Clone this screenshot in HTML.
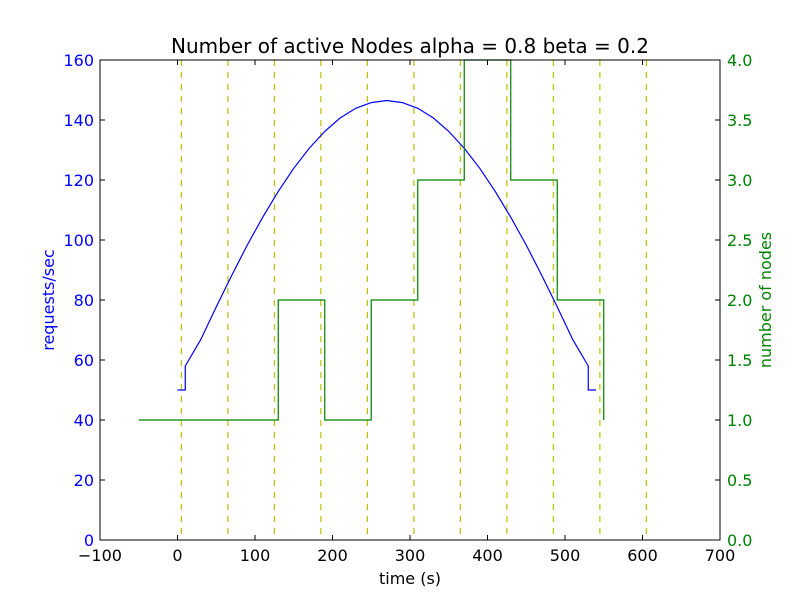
<!DOCTYPE html>
<html><head><meta charset="utf-8"><style>
body{margin:0;background:#fff;}
svg text{font-family:"DejaVu Sans","Liberation Sans",sans-serif;}
</style></head><body>
<svg id="c" width="800" height="600" xmlns="http://www.w3.org/2000/svg"></svg>
<script>
const xTicks=[-100,0,100,200,300,400,500,600,700];
const yLeftTicks=[0,20,40,60,80,100,120,140,160];
const yRightTicks=["0.0","0.5","1.0","1.5","2.0","2.5","3.0","3.5","4.0"];
const vlines=[5,65,125,185,245,305,365,425,485,545,605];
const reqX=[0,10,10,30,50,70,90,110,130,150,170,190,210,230,250,270,290,310,330,350,370,390,410,430,450,470,490,510,530,530,540];
const reqY=[50,50,58,66.8,77.7,88.2,98.3,107.6,116.2,123.9,130.6,136.2,140.7,143.9,145.8,146.5,145.8,143.9,140.7,136.2,130.6,123.9,116.2,107.6,98.3,88.2,77.7,66.8,58,50,50];
const stepX=[-50,130,190,250,310,370,430,490,550];
const stepV=[1,2,1,2,3,4,3,2,1];

const L=100,R=720,T=60,B=540;
const sx=v=>L+(v+100)/800*(R-L);
const syL=v=>B-v/160*(B-T);
const syR=v=>B-v/4*(B-T);
const svg=document.getElementById('c');
const NS="http://www.w3.org/2000/svg";
function mk(tag,attrs,parent){const e=document.createElementNS(NS,tag);for(const k in attrs)e.setAttribute(k,attrs[k]);(parent||svg).appendChild(e);return e;}

let t=mk('text',{x:410,y:53,'text-anchor':'middle','font-size':20});
t.textContent='Number of active Nodes alpha = 0.8 beta = 0.2';



vlines.forEach(v=>{
  const l=mk('line',{x1:sx(v),x2:sx(v),y1:T,y2:B,stroke:'#bfbf00','stroke-width':1.2,'stroke-dasharray':'6,6'});
  
  
});

let d='';reqX.forEach((x,i)=>{d+=(i?'L':'M')+sx(x)+','+syL(reqY[i]);});
const bp=mk('path',{d:d,fill:'none',stroke:'#0000ff','stroke-width':1.2});



d='';stepX.forEach((x,i)=>{
  if(i===0)d+='M'+sx(x)+','+syR(stepV[i]);
  else d+='L'+sx(x)+','+syR(stepV[i-1])+'L'+sx(x)+','+syR(stepV[i]);
});
const gp=mk('path',{d:d,fill:'none',stroke:'#008000','stroke-width':1.2});



const fr=mk('rect',{x:L,y:T,width:R-L,height:B-T,fill:'none',stroke:'#000','stroke-width':1});



xTicks.forEach(v=>{
  const x=sx(v);
  mk('line',{x1:x,x2:x,y1:B,y2:B-5,stroke:'#000'});
  mk('line',{x1:x,x2:x,y1:T,y2:T+5,stroke:'#000'});
  const tx=mk('text',{x:x,y:B+21,'text-anchor':'middle','font-size':16});
  tx.textContent=(v<0?'\u2212'+(-v):v);
  
  
});
yLeftTicks.forEach(v=>{
  const y=syL(v);
  mk('line',{x1:L,x2:L+5,y1:y,y2:y,stroke:'#000'});
  const tx=mk('text',{x:L-6,y:y+6,'text-anchor':'end','font-size':16,fill:'#0000ff'});
  tx.textContent=v;
  
  
});
yRightTicks.forEach((s,i)=>{
  const y=syR(parseFloat(s));
  mk('line',{x1:R-5,x2:R,y1:y,y2:y,stroke:'#000'});
  const tx=mk('text',{x:R+7,y:y+6,'text-anchor':'start','font-size':16,fill:'#008000'});
  tx.textContent=s;
  
  
});
let a=mk('text',{x:410,y:584,'text-anchor':'middle','font-size':16});a.textContent='time (s)';


a=mk('text',{x:54,y:300,'text-anchor':'middle','font-size':16,fill:'#0000ff',transform:'rotate(-90 54 300)'});a.textContent='requests/sec';


a=mk('text',{x:771,y:300,'text-anchor':'middle','font-size':16,fill:'#008000',transform:'rotate(-90 771 300)'});a.textContent='number of nodes';


</script>
</body></html>
